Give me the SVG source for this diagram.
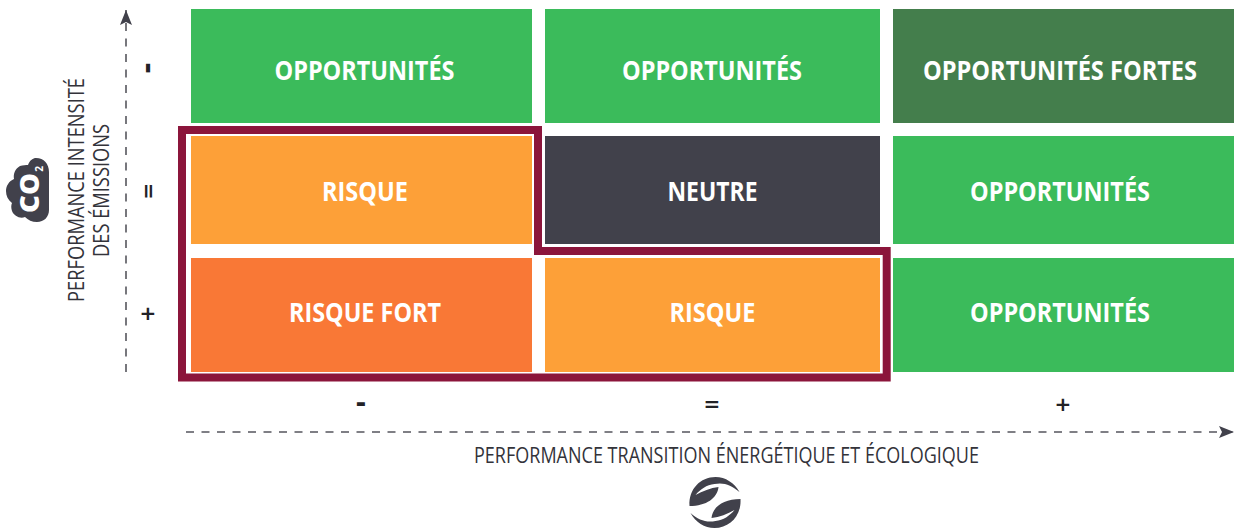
<svg xmlns="http://www.w3.org/2000/svg" xmlns:xlink="http://www.w3.org/1999/xlink" width="1235" height="528" viewBox="0 0 1235 528">
<style>
.cell{stroke:none}
.g{fill:#3bbb5b}.dg{fill:#447e4c}.o{fill:#fda038}.ro{fill:#f97836}.n{fill:#41414b}
.t{font-family:"Open Sans","Liberation Sans",sans-serif;font-weight:700;font-size:26.500px;fill:#fff;text-anchor:middle}
.s{font-family:"DejaVu Sans",sans-serif;font-weight:700;font-size:20px;fill:#222226;text-anchor:middle}
.a{font-family:"Open Sans","Liberation Sans",sans-serif;font-weight:400;font-size:21px;fill:#33333a;text-anchor:middle}
.d{fill:none;stroke:#56565d;stroke-width:1.6;stroke-dasharray:8 7.5}
</style>
<defs>
<marker id="ah" markerUnits="userSpaceOnUse" markerWidth="16" markerHeight="14" refX="15" refY="7" orient="auto"><path d="M0 1L15 7L0 13L3 7Z" fill="#41414b"/></marker>
<path id="leaf" d="M686 505C685 488 697 476 712 476C722 476 731 482 736 491C728 484 720 481 711 483C703 484 697 488 692 494C699 490 707 487 715 486C714 497 703 505 686 505Z" fill="#41414b"/>
</defs>
<g id="c11"><rect class="cell g" x="191" y="9" width="341" height="114"/><text class="t" x="364.500" y="80" textLength="180" lengthAdjust="spacingAndGlyphs">OPPORTUNITÉS</text></g>
<g id="c12"><rect class="cell g" x="545" y="9" width="335" height="114"/><text class="t" x="712" y="80" textLength="180" lengthAdjust="spacingAndGlyphs">OPPORTUNITÉS</text></g>
<g id="c13"><rect class="cell dg" x="893" y="9" width="341" height="114"/><text class="t" x="1060" y="80" textLength="274" lengthAdjust="spacingAndGlyphs">OPPORTUNITÉS FORTES</text></g>
<g id="c21"><rect class="cell o" x="191" y="136" width="341" height="108"/><text class="t" x="365" y="201" textLength="86" lengthAdjust="spacingAndGlyphs">RISQUE</text></g>
<g id="c22"><rect class="cell n" x="545" y="136" width="335" height="108"/><text class="t" x="712.500" y="201" textLength="90" lengthAdjust="spacingAndGlyphs">NEUTRE</text></g>
<g id="c23"><rect class="cell g" x="893" y="136" width="341" height="108"/><text class="t" x="1060" y="201" textLength="180" lengthAdjust="spacingAndGlyphs">OPPORTUNITÉS</text></g>
<g id="c31"><rect class="cell ro" x="191" y="258" width="341" height="114"/><text class="t" x="365" y="322" textLength="152" lengthAdjust="spacingAndGlyphs">RISQUE FORT</text></g>
<g id="c32"><rect class="cell o" x="545" y="258" width="335" height="114"/><text class="t" x="712.500" y="322" textLength="86" lengthAdjust="spacingAndGlyphs">RISQUE</text></g>
<g id="c33"><rect class="cell g" x="893" y="258" width="341" height="114"/><text class="t" x="1060" y="322" textLength="180" lengthAdjust="spacingAndGlyphs">OPPORTUNITÉS</text></g>
<g id="frame"><path d="M182 130H538V251H886.700V377.500H182Z" fill="none" stroke="#8b153b" stroke-width="8"/></g>
<g id="connectors">
<path class="d" d="M126 372V10" marker-end="url(#ah)"/>
<path class="d" d="M186 432H1234" marker-end="url(#ah)"/>
</g>
<g id="scale-y">
<text class="s" transform="translate(140 68) rotate(90)" style="font-size:28px">-</text>
<text class="s" transform="translate(142 191) rotate(90)">=</text>
<text class="s" x="148" y="320">+</text>
</g>
<g id="scale-x">
<text class="s" x="361" y="412" style="font-size:26px">-</text>
<text class="s" x="712" y="411">=</text>
<text class="s" x="1063" y="411">+</text>
</g>
<g id="label-y">
<text class="a" transform="translate(84 190) rotate(-90)" textLength="224" lengthAdjust="spacingAndGlyphs">PERFORMANCE INTENSITÉ</text>
<text class="a" transform="translate(109 190.500) rotate(-90)" textLength="133" lengthAdjust="spacingAndGlyphs">DES ÉMISSIONS</text>
</g>
<g id="label-x"><text class="a" x="726.500" y="463" textLength="505" lengthAdjust="spacingAndGlyphs">PERFORMANCE TRANSITION ÉNERGÉTIQUE ET ÉCOLOGIQUE</text></g>
<g id="co2">
<path fill="#41414b" d="M36 158C44 158 49 164 49 172V210C49 217 44 222 37 222C32 222 28 220 25 217C20 219 14 216 12 211C11 208 11 205 12 203C8 200 6 196 6 191C6 186 9 181 14 179C13 174 15 169 20 166C23 165 26 165 28 165C30 160 33 158 36 158Z"/>
<text transform="translate(39 193) rotate(-90)" font-family="'Open Sans','Liberation Sans',sans-serif" font-weight="800" font-size="27" fill="#fff" text-anchor="middle" textLength="40" lengthAdjust="spacingAndGlyphs">CO</text>
<text transform="translate(43 169) rotate(-90)" font-family="'Open Sans','Liberation Sans',sans-serif" font-weight="700" font-size="10" fill="#fff" text-anchor="middle">2</text>
</g>
<g id="leaf-icon" transform="translate(3.500 1)">
<use xlink:href="#leaf" href="#leaf"/>
<use xlink:href="#leaf" href="#leaf" transform="rotate(180 711.500 501.500)"/>
</g>
</svg>
